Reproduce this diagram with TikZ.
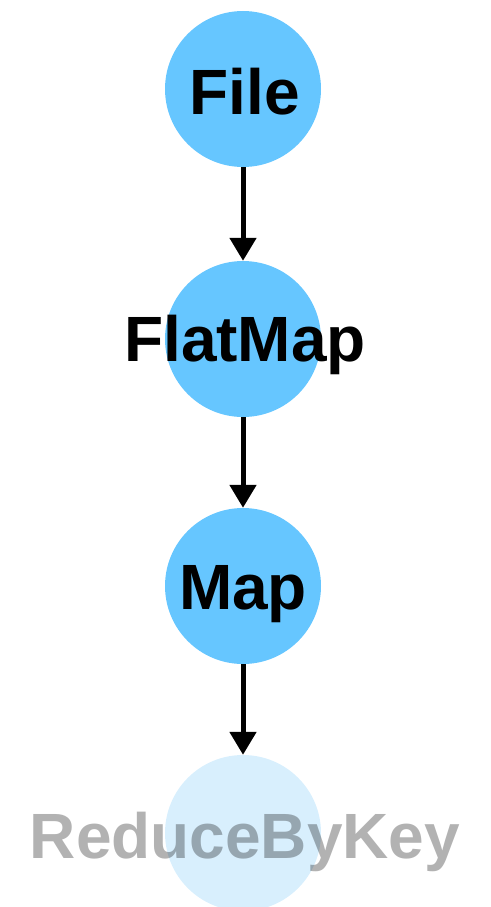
\documentclass[tikz,border=0pt]{standalone}
\usepackage{fontspec}
\setmainfont{Liberation Sans}
\usetikzlibrary{arrows.meta}
\definecolor{opblue}{RGB}{102,198,255}
\definecolor{paleblue}{RGB}{216,239,253}
\tikzset{
  opcircle/.style={circle, fill=opblue, draw=none, minimum size=156pt, inner sep=0pt},
  pendcircle/.style={circle, fill=paleblue, draw=none, minimum size=156pt, inner sep=0pt},
  oplabel/.style={anchor=base, inner sep=0pt, font=\fontsize{64}{70}\selectfont\bfseries},
  flow/.style={line width=5pt, -{Triangle[width=26pt,length=23pt]}}
}
\begin{document}
\begin{tikzpicture}[x=1pt,y=-1pt]
\useasboundingbox (0,0) rectangle (490,907);
\node[opcircle] (c1) at (243,89) {};
\node[opcircle] (c2) at (243,339) {};
\node[opcircle] (c3) at (243,586) {};
\node[pendcircle] (c4) at (243,833) {};
\node[oplabel] (t1) at (245,114) {File};
\node[oplabel] (t2) at (245,361) {FlatMap};
\node[oplabel] (t3) at (243,609) {Map};
\node[oplabel, text opacity=0.3] (t4) at (245,858) {ReduceByKey};
\draw[flow] (c1.south) -- (c2.north);
\draw[flow] (c2.south) -- (c3.north);
\draw[flow] (c3.south) -- (c4.north);
\end{tikzpicture}
\end{document}
